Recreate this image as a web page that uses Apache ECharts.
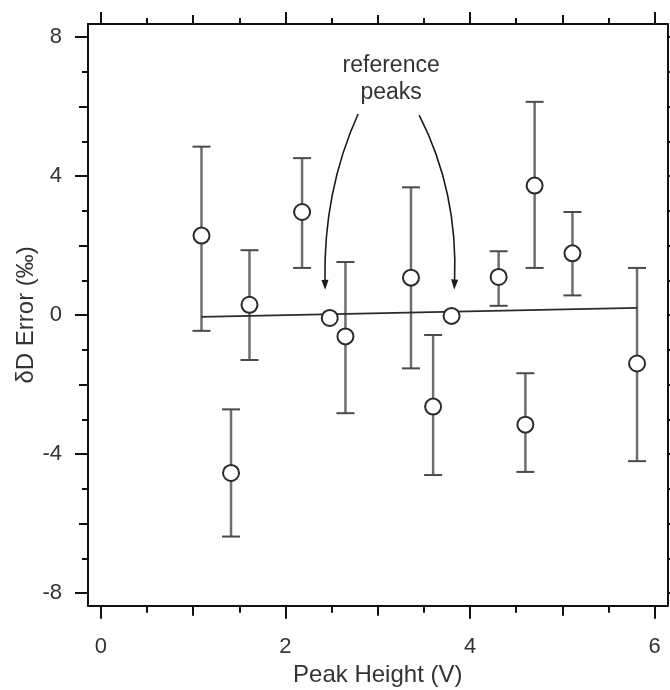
<!DOCTYPE html>
<html>
<head>
<meta charset="utf-8">
<script src="https://cdn.jsdelivr.net/npm/echarts@6/dist/echarts.min.js"></script>
<style>html,body{margin:0;padding:0;background:#fff}#c{width:670px;height:690px}</style>
</head>
<body>
<div id="c"></div>
<script>
// ---- data ----
const peakX   = [1.09, 1.41, 1.61, 2.18, 2.65, 3.36, 3.60, 4.31, 4.60, 4.70, 5.11, 5.81];
const errorY  = [2.29, -4.54, 0.30, 2.97, -0.61, 1.08, -2.63, 1.10, -3.15, 3.73, 1.78, -1.39];
const errHigh = [4.85, -2.71, 1.87, 4.52, 1.53, 3.68, -0.57, 1.84, -1.67, 6.14, 2.97, 1.36];
const errLow  = [-0.45, -6.37, -1.29, 1.36, -2.82, -1.53, -4.60, 0.27, -4.51, 1.36, 0.57, -4.20];
const refX = [2.48, 3.80];
const refY = [-0.08, -0.02];
const fitX = [1.09, 5.81];
const fitY = [-0.05, 0.21];
const xTickLabels = [0, 2, 4, 6];
const yTickLabels = [-8, -4, 0, 4, 8];
const xMediumTicks = [1, 3, 5];
const xMinorTicks = [0.5, 1.5, 2.5, 3.5, 4.5, 5.5];
const yMediumTicks = [-6, -2, 2, 6];
const yMinorTicks = [-7, -5, -3, -1, 1, 3, 5, 7];
const yAllTicks = [-8, -7, -6, -5, -4, -3, -2, -1, 0, 1, 2, 3, 4, 5, 6, 7, 8];
const annotationText = 'reference\npeaks';
const annotationAt = [3.145, 6.80];
// arrows: [startX, startY, controlX, controlY, endX, endY] in data units
const arrowLeft  = [2.787, 5.79, 2.408, 3.56, 2.43, 0.73];
const arrowRight = [3.449, 5.76, 3.872, 3.56, 3.829, 0.74];

const X_MIN = -0.14, X_MAX = 6.14, Y_MIN = -8.36, Y_MAX = 8.38;
const FONT = '"Liberation Sans", Arial, Helvetica, sans-serif';
const TXT = '#333';
const AX = '#111';

function xAx(pos, ticks, len, opts) {
  return Object.assign({
    type: 'value', gridIndex: 0, position: pos, min: X_MIN, max: X_MAX,
    splitLine: {show: false},
    axisLine: {show: false, onZero: false, lineStyle: {color: AX, width: 2}},
    axisTick: {show: true, customValues: ticks, length: len, lineStyle: {color: AX, width: 2}},
    axisLabel: {show: false}
  }, opts || {});
}
function yAx(pos, ticks, len, opts) {
  return Object.assign({
    type: 'value', gridIndex: 0, position: pos, min: Y_MIN, max: Y_MAX,
    splitLine: {show: false},
    axisLine: {show: false, onZero: false, lineStyle: {color: AX, width: 2}},
    axisTick: {show: true, customValues: ticks, length: len, lineStyle: {color: AX, width: 2}},
    axisLabel: {show: false}
  }, opts || {});
}

const chart = echarts.init(document.getElementById('c'), null, {renderer: 'canvas'});

const option = {
  animation: false,
  backgroundColor: '#fff',
  grid: {left: 88, right: 2.5, top: 24, bottom: 84.3, containLabel: false, outerBoundsMode: 'none'},
  xAxis: [
    xAx('bottom', xTickLabels, 13, {
      axisLine: {show: true, onZero: false, lineStyle: {color: AX, width: 2}},
      axisLabel: {show: true, customValues: xTickLabels, margin: 30, fontSize: 22, color: TXT, fontFamily: FONT},
      name: 'Peak Height (V)', nameLocation: 'middle', nameGap: 58, nameMoveOverlap: false,
      nameTextStyle: {fontSize: 24, color: TXT, fontFamily: FONT, verticalAlign: 'top'}
    }),
    xAx('bottom', xMediumTicks, 10),
    xAx('bottom', xMinorTicks, 7),
    xAx('top', xTickLabels, 12, {axisLine: {show: true, onZero: false, lineStyle: {color: AX, width: 2}}}),
    xAx('top', xMediumTicks, 9),
    xAx('top', xMinorTicks, 6)
  ],
  yAxis: [
    yAx('left', yTickLabels, 13, {
      axisLine: {show: true, onZero: false, lineStyle: {color: AX, width: 2}},
      axisLabel: {show: true, customValues: yTickLabels, margin: 26, fontSize: 22, color: TXT, fontFamily: FONT},
      name: 'δD Error (‰)', nameLocation: 'middle', nameGap: 50, nameMoveOverlap: false,
      nameTextStyle: {fontSize: 24, color: TXT, fontFamily: FONT}
    }),
    yAx('left', yMediumTicks, 9),
    yAx('left', yMinorTicks, 6),
    yAx('right', yAllTicks, 6, {axisLine: {show: true, onZero: false, lineStyle: {color: AX, width: 2}}})
  ],
  series: [
    {
      type: 'custom', name: 'error bars', xAxisIndex: 0, yAxisIndex: 0, z: 2,
      data: peakX.map((x, i) => [x, errLow[i], errHigh[i]]),
      renderItem: function (params, api) {
        const x = api.value(0);
        const lo = api.coord([x, api.value(1)]);
        const hi = api.coord([x, api.value(2)]);
        const hw = 9;
        return {
          type: 'group', children: [
            {type: 'line', shape: {x1: hi[0], y1: hi[1], x2: lo[0], y2: lo[1]}, style: {stroke: '#6e6e6e', lineWidth: 2.5}},
            {type: 'line', shape: {x1: hi[0] - hw, y1: hi[1], x2: hi[0] + hw, y2: hi[1]}, style: {stroke: '#4a4a4a', lineWidth: 2}},
            {type: 'line', shape: {x1: lo[0] - hw, y1: lo[1], x2: lo[0] + hw, y2: lo[1]}, style: {stroke: '#4a4a4a', lineWidth: 2}}
          ]
        };
      }
    },
    {
      type: 'line', name: 'fit', xAxisIndex: 0, yAxisIndex: 0, z: 3,
      data: fitX.map((x, i) => [x, fitY[i]]),
      symbol: 'none', lineStyle: {color: '#2a2a2a', width: 1.8}
    },
    {
      type: 'scatter', name: 'samples', xAxisIndex: 0, yAxisIndex: 0, z: 4,
      data: peakX.map((x, i) => [x, errorY[i]]).concat(refX.map((x, i) => [x, refY[i]])),
      symbol: 'circle', symbolSize: 16,
      itemStyle: {color: '#fff', borderColor: '#2a2a2a', borderWidth: 2, opacity: 1}
    },
    {
      type: 'custom', name: 'annotation', xAxisIndex: 0, yAxisIndex: 0, z: 5,
      data: [arrowLeft, arrowRight],
      renderItem: function (params, api) {
        const s = api.coord([api.value(0), api.value(1)]);
        const c = api.coord([api.value(2), api.value(3)]);
        const e = api.coord([api.value(4), api.value(5)]);
        let dx = e[0] - c[0], dy = e[1] - c[1];
        const L = Math.sqrt(dx * dx + dy * dy); dx /= L; dy /= L;
        const len = 10, hw = 3.6;
        const bx = e[0] - dx * len, by = e[1] - dy * len;
        const px = -dy, py = dx;
        const children = [
          {type: 'bezierCurve', shape: {x1: s[0], y1: s[1], cpx1: c[0], cpy1: c[1], x2: bx + dx * 2, y2: by + dy * 2},
            style: {stroke: '#1a1a1a', lineWidth: 1.6, fill: null}},
          {type: 'polygon', shape: {points: [[e[0], e[1]], [bx + px * hw, by + py * hw], [bx - px * hw, by - py * hw]]},
            style: {fill: '#1a1a1a'}}
        ];
        if (params.dataIndex === 0) {
          const t = api.coord(annotationAt);
          children.push({type: 'text', x: t[0], y: t[1], style: {
            text: annotationText, fill: TXT, font: '23px ' + FONT, lineHeight: 27,
            align: 'center', verticalAlign: 'middle'}});
        }
        return {type: 'group', children: children};
      }
    }
  ]
};
chart.setOption(option);
</script>
</body>
</html>
